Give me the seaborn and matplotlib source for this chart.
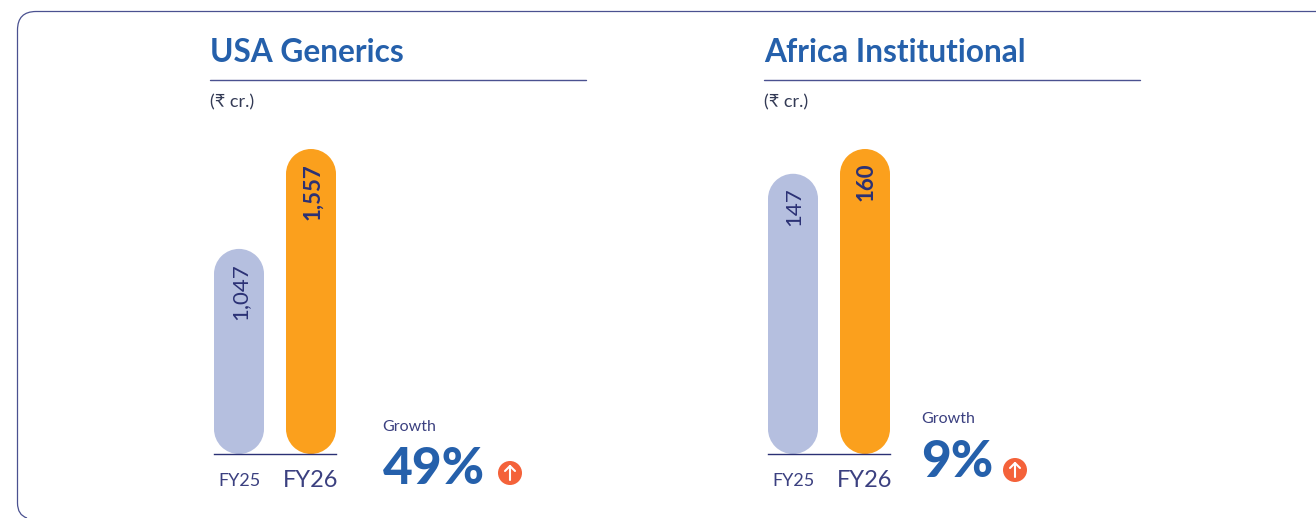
import matplotlib
matplotlib.use("Agg")
import matplotlib.pyplot as plt
import pandas as pd
import seaborn as sns
from matplotlib.patches import PathPatch, Circle, Rectangle
from matplotlib.path import Path
from matplotlib.transforms import Affine2D

years = ["FY25", "FY26"]
usa_values = [1047, 1557]
africa_values = [147, 160]
titles = ["USA Generics", "Africa Institutional"]
growth_labels = ["49%", "9%"]
unit_label = "(₹ cr.)"
growth_title = "Growth"

W, H = 1316, 518
NAVY = "#2b3175"
BLUE = "#2560ab"
ORANGE = "#fba01d"
LAV = "#b5bfdf"
RED = "#f4623a"
LABEL = "#3b4080"

sns.set_theme(style="white")
plt.rcParams["font.family"] = ["Lato", "DejaVu Sans"]
fig = plt.figure(figsize=(W / 100, H / 100), dpi=100, facecolor="white")
px = Affine2D().scale(1, -1).translate(0, H)

card = Path([(W, 11.5), (36, 11.5), (17.5, 11.5), (17.5, 30), (17.5, 503), (17.5, 515), (27, 518)],
            [Path.MOVETO, Path.LINETO, Path.CURVE3, Path.CURVE3, Path.LINETO, Path.CURVE3, Path.CURVE3])
fig.add_artist(PathPatch(card, transform=px, fc="none", ec="#4a5190", lw=0.9))


def panel(x0, title, values, growth, gx, gy1, gy2, cx, cy):
    ax = fig.add_axes([x0 / W, (H - 454) / H, 122 / W, 305 / H])
    ax.patch.set_alpha(0)
    df = pd.DataFrame({"year": years, "value": values})
    sns.barplot(data=df, x="year", y="value", hue="year", palette=[LAV, ORANGE],
                width=50 / 72, legend=False, saturation=1, ax=ax)
    ax.set_xlim(-25 / 72, 1 + 25 / 72)
    ax.set_ylim(0, max(values))
    fig.canvas.draw()
    for bar in list(ax.patches):
        bb = bar.get_window_extent()
        c = bar.get_facecolor()
        bar.set_visible(False)
        r = bb.width / 2
        xc = bb.x0 + r
        parts = [Rectangle((bb.x0, bb.y0 + r), bb.width, bb.height - 2 * r, transform=None,
                           fc=c, ec="none", zorder=-1),
                 Circle((xc, bb.y0 + r), r, transform=None, fc=c, ec="none", zorder=-1),
                 Circle((xc, bb.y1 - r), r, transform=None, fc=c, ec="none", zorder=-1)]
        for part in parts:
            fig.add_artist(part)
    sns.despine(ax=ax, left=True, top=True, right=True)
    ax.spines["bottom"].set_color(NAVY)
    ax.spines["bottom"].set_linewidth(1.0)
    ax.set_yticks([])
    ax.set_xlabel("")
    ax.set_ylabel("")
    ax.set_xticks([0, 1], years)
    ax.tick_params(axis="x", length=0, pad=6, colors=LABEL)
    for lab, fs in zip(ax.get_xticklabels(), [13, 17]):
        lab.set_fontsize(fs)
        lab.set_va("center")
        lab.set_y(-0.06)
    for i, v in enumerate(values):
        ax.annotate(f"{v:,}", (i, v), xytext=(1, -10),
                    textcoords="offset points", rotation=90, ha="center", va="top",
                    fontsize=16, color=NAVY, fontweight="bold" if i else "normal")

    x1 = x0 - 4
    fig.text(x1, 52, title, transform=px, fontsize=22.8, fontweight="bold", color=BLUE, va="center")
    fig.add_artist(plt.Line2D([x1, x1 + 376], [79.5, 79.5], transform=px, color="#4a5190", lw=1.0))
    fig.text(x1, 102, unit_label, transform=px, fontsize=13, color="#333a55", va="center")
    fig.text(gx, gy1, growth_title, transform=px, fontsize=11.5, color=LABEL, va="center")
    fig.text(gx, gy2, growth, transform=px, fontsize=37, fontweight="black", color=BLUE, va="center")
    fig.add_artist(Circle((cx, cy), 12, transform=px, fc=RED, ec="none"))
    arrow = dict(transform=px, color="white", lw=1.5, solid_capstyle="round")
    fig.add_artist(plt.Line2D([cx, cx], [cy - 7, cy + 7], **arrow))
    fig.add_artist(plt.Line2D([cx - 5, cx, cx + 5], [cy - 2, cy - 7, cy - 2], **arrow))


panel(214, titles[0], usa_values, growth_labels[0], 382.5, 427, 470, 510, 473)
panel(768, titles[1], africa_values, growth_labels[1], 921.5, 419, 462.5, 1015, 470)

fig.savefig("out.png", dpi=100)
